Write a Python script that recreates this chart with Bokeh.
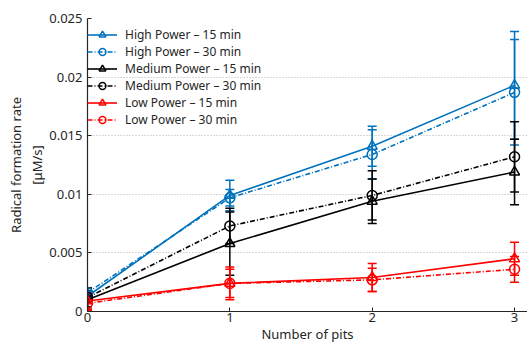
from bokeh.plotting import figure
from bokeh.models import (ColumnDataSource, Range1d, FixedTicker, Whisker, TeeHead,
                          Legend, LegendItem)
from bokeh.embed import file_html
from bokeh.resources import INLINE

# ---- data ----
pits = [0, 1, 2, 3]
high15 = [0.0013, 0.0099, 0.0141, 0.0193]
high15_err = [0.0004, 0.0013, 0.0017, 0.0046]
high30 = [0.0016, 0.0097, 0.0134, 0.0187]
high30_err = [0.0004, 0.0007, 0.0021, 0.0045]
med15 = [0.0010, 0.0058, 0.0094, 0.0119]
med15_err = [0.0008, 0.0027, 0.0019, 0.0028]
med30 = [0.0012, 0.0073, 0.0099, 0.0132]
med30_err = [0.0008, 0.0015, 0.0021, 0.0030]
low15 = [0.0009, 0.0024, 0.0029, 0.0045]
low15_err = [0.0007, 0.0014, 0.0012, 0.0014]
low30 = [0.0007, 0.0024, 0.0027, 0.0036]
low30_err = [0.0006, 0.0012, 0.0010, 0.0011]

series_labels = ["High Power \u2013 15 min", "High Power \u2013 30 min",
                 "Medium Power \u2013 15 min", "Medium Power \u2013 30 min",
                 "Low Power \u2013 15 min", "Low Power \u2013 30 min"]
y_ticks = [0, 0.005, 0.01, 0.015, 0.02, 0.025]
y_tick_labels = ["0", "0.005", "0.01", "0.015", "0.02", "0.025"]
x_ticks = [0, 1, 2, 3]

series = [
    (high15, high15_err, "#0072BD", "solid", "triangle"),
    (high30, high30_err, "#0072BD", "5 2 1 2", "circle"),
    (med15, med15_err, "#000000", "solid", "triangle"),
    (med30, med30_err, "#000000", "5 2 1 2", "circle"),
    (low15, low15_err, "#FF0000", "solid", "triangle"),
    (low30, low30_err, "#FF0000", "5 2 1 2", "circle"),
]

FONT = "Noto Sans"
TXT = "#262626"

p = figure(width=527, height=345, output_backend="svg", toolbar_location=None,
           x_range=Range1d(0, 3.091), y_range=Range1d(0, 0.025),
           min_border_left=87, min_border_right=0, min_border_top=18,
           min_border_bottom=34)
p.outline_line_color = None
p.background_fill_color = "white"

p.xgrid.grid_line_color = None
p.ygrid.grid_line_color = "#b0b0b0"
p.ygrid.grid_line_dash = "1 2"
p.ygrid.grid_line_width = 1

for ax in (p.xaxis[0], p.yaxis[0]):
    ax.axis_line_color = TXT
    ax.axis_line_width = 1.2
    ax.major_tick_in = 4
    ax.major_tick_out = 0
    ax.major_tick_line_color = TXT
    ax.minor_tick_line_color = None
    ax.major_label_text_font = FONT
    ax.major_label_text_font_size = "13px"
    ax.major_label_text_color = TXT
    ax.axis_label_text_font = FONT
    ax.axis_label_text_font_size = "13px"
    ax.axis_label_text_font_style = "normal"
    ax.axis_label_text_color = TXT

p.xaxis.ticker = FixedTicker(ticks=x_ticks)
p.yaxis.ticker = FixedTicker(ticks=y_ticks)
p.yaxis.major_label_overrides = {t: l for t, l in zip(y_ticks, y_tick_labels)}
p.xaxis.axis_label = "Number of pits"
p.yaxis.axis_label = "Radical formation rate\n[\u03bcM/s]"
p.xaxis.major_label_standoff = 1
p.yaxis.major_label_standoff = 5
p.xaxis.axis_label_standoff = 0
p.yaxis.axis_label_standoff = 0

items = []
for (vals, errs, color, dash, marker), label in zip(series, series_labels):
    src = ColumnDataSource(dict(
        x=pits, y=vals,
        lo=[v - e for v, e in zip(vals, errs)],
        hi=[v + e for v, e in zip(vals, errs)]))
    w = Whisker(base="x", lower="lo", upper="hi", source=src,
                line_color=color, line_width=1.5,
                upper_head=TeeHead(size=9, line_color=color, line_width=1.5),
                lower_head=TeeHead(size=9, line_color=color, line_width=1.5))
    p.add_layout(w)
    ln = p.line("x", "y", source=src, line_color=color, line_width=1.6,
                line_dash=dash)
    sc = p.scatter("x", "y", source=src, marker=marker, size=10,
                   line_color=color, line_width=1.5, fill_color=color,
                   fill_alpha=0.0)
    items.append(LegendItem(label=label, renderers=[ln, sc]))

legend = Legend(items=items, location=(0, 183), margin=0, padding=8,
                glyph_width=30, glyph_height=17, label_height=17, spacing=0,
                label_standoff=8, label_text_font=FONT,
                label_text_font_size="12px", label_text_color=TXT,
                background_fill_alpha=0, border_line_color=None)
p.add_layout(legend)

open("out.html", "w").write(file_html(p, INLINE))
